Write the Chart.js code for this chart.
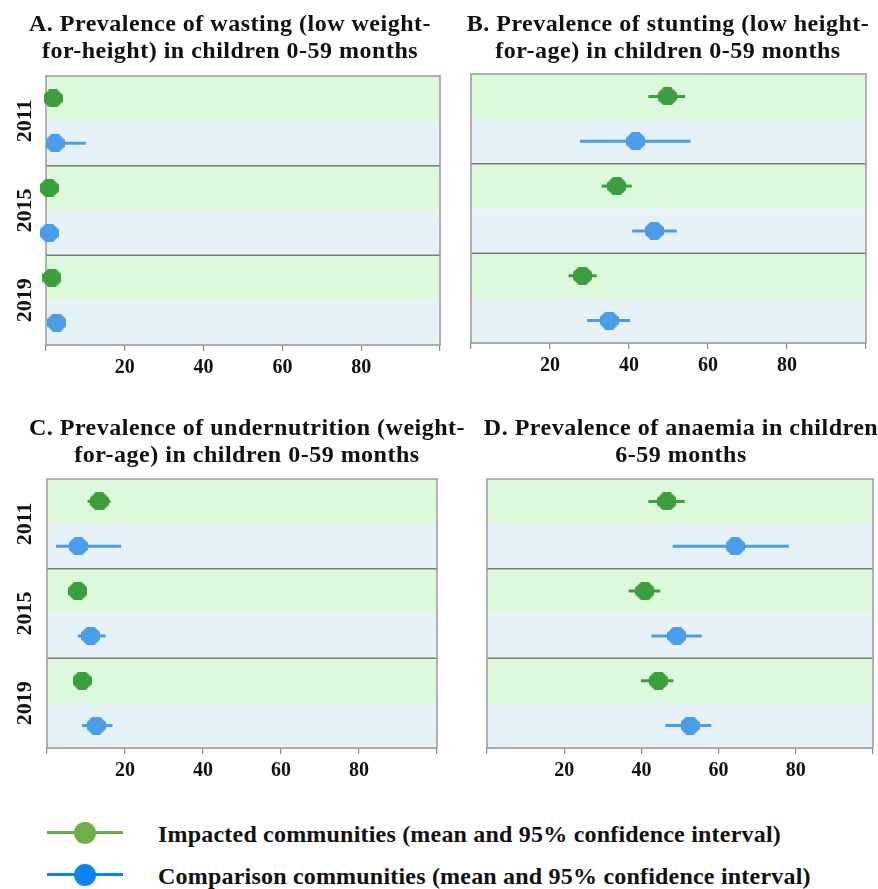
<!DOCTYPE html>
<html>
<head>
<meta charset="utf-8">
<script src="https://cdn.jsdelivr.net/npm/chart.js@4.4.1/dist/chart.umd.min.js"></script>
<style>
  html, body { margin: 0; padding: 0; background: #ffffff; }
  body { width: 878px; height: 889px; position: relative; overflow: hidden; }
  .cv { position: absolute; }
  .title { position: absolute; width: 560px; text-align: center; font-family: 'Liberation Serif', serif; font-weight: bold; font-size: 24px; letter-spacing: 0.5px; line-height: 27px; color: #111; white-space: nowrap; }
  .leg-line { position: absolute; height: 3px; }
  .leg-dot { position: absolute; width: 22px; height: 22px; border-radius: 50%; }
  .leg-text { position: absolute; font-family: 'Liberation Serif', serif; font-weight: bold; font-size: 24px; letter-spacing: 0.2px; line-height: 27px; color: #111; white-space: nowrap; }
</style>
</head>
<body>

<canvas id="cA" class="cv" style="left:0px;top:0px;width:445px;height:400px" width="445" height="400"></canvas>
<canvas id="cB" class="cv" style="left:440px;top:0px;width:438px;height:400px" width="438" height="400"></canvas>
<canvas id="cC" class="cv" style="left:0px;top:400px;width:445px;height:400px" width="445" height="400"></canvas>
<canvas id="cD" class="cv" style="left:440px;top:400px;width:438px;height:400px" width="438" height="400"></canvas>

<div class="title" style="left:-50px;top:10px">A. Prevalence of wasting (low weight-<br>for-height) in children 0-59 months</div>
<div class="title" style="left:388px;top:10px">B. Prevalence of stunting (low height-<br>for-age) in children 0-59 months</div>
<div class="title" style="left:-33px;top:414px">C. Prevalence of undernutrition (weight-<br>for-age) in children 0-59 months</div>
<div class="title" style="left:401px;top:414px">D. Prevalence of anaemia in children<br>6-59 months</div>

<div class="leg-line" style="left:47px;top:831px;width:76px;background:#70ad47"></div>
<div class="leg-dot" style="left:74px;top:822px;background:#70ad47"></div>
<div class="leg-text" style="left:158px;top:821px">Impacted communities (mean and 95% confidence interval)</div>
<div class="leg-line" style="left:47px;top:873px;width:76px;background:#0a84f0"></div>
<div class="leg-dot" style="left:74px;top:864px;background:#0a84f0"></div>
<div class="leg-text" style="left:158px;top:863px">Comparison communities (mean and 95% confidence interval)</div>

<script>
// ---------------- DATA ----------------
const years = ['2011', '2015', '2019'];
const xTicks = [20, 40, 60, 80];

// A. Wasting
const wastingImpactedMean = [1.8, 0.8, 1.5];
const wastingImpactedLow  = [1.0, 0.3, 0.8];
const wastingImpactedHigh = [2.6, 1.5, 2.3];
const wastingComparisonMean = [2.3, 0.8, 2.7];
const wastingComparisonLow  = [0.5, 0.3, 1.5];
const wastingComparisonHigh = [10.1, 1.5, 4.0];

// B. Stunting
const stuntingImpactedMean = [49.7, 36.9, 28.2];
const stuntingImpactedLow  = [44.9, 33.1, 24.7];
const stuntingImpactedHigh = [54.2, 40.7, 31.8];
const stuntingComparisonMean = [41.7, 46.4, 35.0];
const stuntingComparisonLow  = [27.6, 40.8, 29.4];
const stuntingComparisonHigh = [55.6, 52.1, 40.3];

// C. Undernutrition
const underImpactedMean = [13.4, 7.9, 9.0];
const underImpactedLow  = [10.4, 6.5, 7.5];
const underImpactedHigh = [16.3, 9.5, 10.7];
const underComparisonMean = [8.0, 11.2, 12.6];
const underComparisonLow  = [2.3, 7.9, 9.0];
const underComparisonHigh = [19.0, 15.0, 16.8];

// D. Anaemia
const anaemiaImpactedMean = [46.6, 40.9, 44.4];
const anaemiaImpactedLow  = [41.8, 36.7, 39.9];
const anaemiaImpactedHigh = [51.2, 44.9, 48.3];
const anaemiaComparisonMean = [64.3, 49.2, 52.6];
const anaemiaComparisonLow  = [48.1, 42.6, 46.2];
const anaemiaComparisonHigh = [78.2, 55.6, 58.1];

// ---------------- STYLE ----------------
const GREEN = '#3d9e3d';
const BLUE = '#4b9de9';
const BAND_GREEN = '#ddf9dc';
const BAND_BLUE = '#e6f2f8';
const FONT = "'Liberation Serif', serif";

function octagon(color, w, h) {
  const c = document.createElement('canvas');
  c.width = w; c.height = h;
  const g = c.getContext('2d');
  const ax = w * 0.3, ay = h * 0.3;
  g.fillStyle = color;
  g.beginPath();
  g.moveTo(ax, 0); g.lineTo(w - ax, 0); g.lineTo(w, ay); g.lineTo(w, h - ay);
  g.lineTo(w - ax, h); g.lineTo(ax, h); g.lineTo(0, h - ay); g.lineTo(0, ay);
  g.closePath(); g.fill();
  return c;
}
const octGreen = octagon(GREEN, 19, 18);
const octBlue = octagon(BLUE, 19, 18);

const bandsPlugin = {
  id: 'bands',
  beforeDatasetsDraw(chart) {
    const { ctx, chartArea: a, scales: { y } } = chart;
    ctx.save();
    for (let i = 0; i < 6; i++) {
      const y0 = y.getPixelForValue(i), y1 = y.getPixelForValue(i + 1);
      ctx.fillStyle = (i % 2 === 0) ? BAND_GREEN : BAND_BLUE;
      ctx.fillRect(a.left, y0, a.right - a.left, y1 - y0);
    }
    ctx.strokeStyle = '#7a7a7a';
    ctx.lineWidth = 1.5;
    [2, 4].forEach(v => {
      const yy = y.getPixelForValue(v);
      ctx.beginPath(); ctx.moveTo(a.left, yy); ctx.lineTo(a.right, yy); ctx.stroke();
    });
    ctx.strokeStyle = '#9a9a9a';
    ctx.lineWidth = 1.5;
    ctx.strokeRect(a.left, a.top, a.right - a.left, a.bottom - a.top);
    ctx.restore();
  }
};

const yearsPlugin = {
  id: 'years',
  afterDraw(chart, args, opts) {
    if (!opts.show) return;
    const { ctx, scales: { y } } = chart;
    ctx.save();
    ctx.fillStyle = '#111';
    ctx.font = 'bold 22px ' + FONT;
    ctx.textAlign = 'center';
    ctx.textBaseline = 'middle';
    years.forEach((yr, i) => {
      const yc = y.getPixelForValue(i * 2 + 1);
      ctx.save();
      ctx.translate(opts.x, yc);
      ctx.rotate(-Math.PI / 2);
      ctx.fillText(yr, 0, 1);
      ctx.restore();
    });
    ctx.restore();
  }
};

function makePanel(id, pad, showYears, impM, impL, impH, cmpM, cmpL, cmpH) {
  const datasets = [];
  for (let g = 0; g < years.length; g++) {
    const ri = g * 2 + 0.5, rc = g * 2 + 1.5;
    datasets.push({ type: 'line', data: [{ x: impL[g], y: ri }, { x: impH[g], y: ri }], borderColor: GREEN, borderWidth: 3, pointRadius: 0, clip: false, showLine: true });
    datasets.push({ type: 'line', data: [{ x: cmpL[g], y: rc }, { x: cmpH[g], y: rc }], borderColor: BLUE, borderWidth: 3, pointRadius: 0, clip: false, showLine: true });
  }
  datasets.push({ type: 'scatter', data: impM.map((v, g) => ({ x: v, y: g * 2 + 0.5 })), pointStyle: octGreen, pointRadius: 9, clip: false });
  datasets.push({ type: 'scatter', data: cmpM.map((v, g) => ({ x: v, y: g * 2 + 1.5 })), pointStyle: octBlue, pointRadius: 9, clip: false });

  new Chart(document.getElementById(id), {
    type: 'scatter',
    data: { datasets },
    options: {
      responsive: false,
      animation: false,
      events: [],
      layout: { padding: pad, autoPadding: false },
      plugins: { legend: { display: false }, tooltip: { enabled: false }, title: { display: false }, years: { show: showYears, x: 24 } },
      scales: {
        x: {
          type: 'linear', min: 0, max: 100,
          afterFit: s => { s.height = 40; },
          afterBuildTicks: s => { s.ticks = [0].concat(xTicks, [100]).map(v => ({ value: v })); },
          ticks: {
            callback: v => xTicks.includes(v) ? String(v) : '',
            font: { family: FONT, weight: 'bold', size: 20 },
            color: '#111', padding: 5, maxRotation: 0, autoSkip: false
          },
          grid: { drawOnChartArea: false, drawTicks: true, tickLength: 6, color: '#8a8a8a', lineWidth: 1.2 },
          border: { display: true, color: '#9a9a9a', width: 1.5 }
        },
        y: { type: 'linear', min: 0, max: 6, reverse: true, display: false }
      }
    },
    plugins: [bandsPlugin, yearsPlugin]
  });
}

makePanel('cA', { left: 46, top: 76, right: 4, bottom: 15 }, true,
  wastingImpactedMean, wastingImpactedLow, wastingImpactedHigh,
  wastingComparisonMean, wastingComparisonLow, wastingComparisonHigh);
makePanel('cB', { left: 31, top: 74, right: 12, bottom: 17 }, false,
  stuntingImpactedMean, stuntingImpactedLow, stuntingImpactedHigh,
  stuntingComparisonMean, stuntingComparisonLow, stuntingComparisonHigh);
makePanel('cC', { left: 47, top: 79, right: 8, bottom: 12 }, true,
  underImpactedMean, underImpactedLow, underImpactedHigh,
  underComparisonMean, underComparisonLow, underComparisonHigh);
makePanel('cD', { left: 47, top: 79, right: 1, bottom: 12 }, false,
  anaemiaImpactedMean, anaemiaImpactedLow, anaemiaImpactedHigh,
  anaemiaComparisonMean, anaemiaComparisonLow, anaemiaComparisonHigh);
</script>
</body>
</html>
